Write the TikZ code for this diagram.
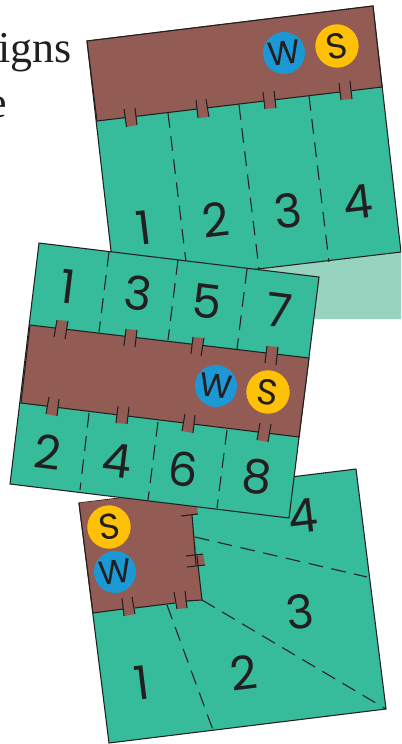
\documentclass[tikz,border=0pt]{standalone}
\usepackage{fontspec}
\setmainfont{Liberation Serif}
\newfontfamily\handfont{Poppins}
\definecolor{flapgreen}{HTML}{36BB9B}
\definecolor{palegreen}{HTML}{97D4C0}
\definecolor{corebrown}{HTML}{925B53}
\definecolor{windblue}{HTML}{1C98D5}
\definecolor{sunyellow}{HTML}{FFC107}
\definecolor{ink}{HTML}{231F20}
\tikzset{
  flap/.style={fill=flapgreen, draw=ink, line width=0.8pt, line join=miter},
  core/.style={fill=corebrown},
  tabfill/.style={fill=corebrown},
  tabline/.style={draw=ink, line width=0.8pt},
  edgeline/.style={draw=ink, line width=0.8pt},
  foldline/.style={draw=ink, line width=0.8pt, dash pattern=on 11pt off 6.5pt},
  digit/.style={font=\handfont\fontsize{35}{35}\selectfont, text=ink, inner sep=0pt},
  windbadge/.style={circle, fill=windblue, text=ink, minimum size=31.5pt, inner sep=0pt, font=\handfont\fontsize{25}{25}\selectfont},
  sunbadge/.style={circle, fill=sunyellow, text=ink, minimum size=32.5pt, inner sep=0pt, font=\handfont\fontsize{27}{27}\selectfont},
  pagetext/.style={font=\fontsize{33}{33}\selectfont, text=ink, inner sep=0pt, anchor=base west}
}
\begin{document}
\begin{tikzpicture}[x=0.75pt,y=-0.75pt]
  \useasboundingbox (0,0) rectangle (401,744);
  \clip (0,0) rectangle (401,744);

  % page behind the plans
  \fill[palegreen] (255,269) -- (401,252) -- (401,319) -- (255,319) -- cycle;
  \node[pagetext] (wordA) at (-2,62) {igns};
  \node[pagetext] (wordB) at (-13,117) {e};
  \node[pagetext] (wordC) at (-13,225) {l};

  % third plan
  \draw[flap] (79,503) -- (356,469) -- (386,709) -- (109,743) -- cycle;
  \fill[core] (79,503) -- (197,489) -- (197,507) -- (192,515) -- (202,600) -- (93,613) -- cycle;
  \fill[tabfill] (181,516) -- (198,514) -- (196,500) -- (179,502) -- cycle;
  \fill[tabfill] (186,556) -- (203,554) -- (205,565) -- (187,567) -- cycle;
  \fill[tabfill] (122,598) -- (124,616) -- (135,614) -- (132,597) -- cycle;
  \fill[tabfill] (174,592) -- (177,609) -- (187,608) -- (185,591) -- cycle;
  \draw[edgeline] (79,503) -- (93,613) -- (123,609);
  \draw[edgeline] (135,608) -- (175,603);
  \draw[edgeline] (186,601) -- (202,600) -- (197,556);
  \draw[edgeline] (196,565) -- (192,515);
  \draw[tabline] (181,516) -- (198,514);
  \draw[tabline] (186,556) -- (203,554);
  \draw[tabline] (187,567) -- (205,565);
  \draw[tabline] (122,598) -- (124,616);
  \draw[tabline] (132,597) -- (135,614);
  \draw[tabline] (174,592) -- (177,609);
  \draw[tabline] (185,591) -- (187,608);
  \draw[foldline] (195,537) -- (367,577);
  \draw[foldline] (202,600) -- (386,709);
  \draw[foldline] (167,605) -- (213,730);

  % first plan
  \draw[flap] (87,41) -- (373,6) -- (401,252) -- (115,286) -- cycle;
  \fill[core] (87,41) -- (373,6) -- (382,87) -- (97,121) -- cycle;
  \draw[edgeline] (87,41) -- (373,6) -- (382,87) -- (97,121) -- cycle;
  \fill[tabfill] (124,109) -- (126.5,127) -- (137,125) -- (135,108) -- cycle;
  \fill[tabfill] (196,100) -- (198,118) -- (209,117) -- (206,99) -- cycle;
  \fill[tabfill] (263,92) -- (265,109) -- (276,108) -- (274,91) -- cycle;
  \fill[tabfill] (339,83) -- (341,100) -- (352,99) -- (350,81) -- cycle;
  \draw[tabline] (124,109) -- (126.5,127);
  \draw[tabline] (135,108) -- (137,125);
  \draw[tabline] (196,100) -- (198,118);
  \draw[tabline] (206,99) -- (209,117);
  \draw[tabline] (263,92) -- (265,109);
  \draw[tabline] (274,91) -- (276,108);
  \draw[tabline] (339,83) -- (341,100);
  \draw[tabline] (350,81) -- (352,99);
  \draw[foldline] (168,113) -- (186,262);
  \draw[foldline] (239,105) -- (259,269);
  \draw[foldline] (309,96) -- (329,262);
  \node[digit, rotate=7] (oneA) at (144,228) {1};
  \node[digit, rotate=7] (twoA) at (216,220) {2};
  \node[digit, rotate=7] (threeA) at (288,211) {3};
  \node[digit, rotate=7] (fourA) at (358,202) {4};
  \node[windbadge, rotate=7] (windA) at (284,53) {W};
  \node[sunbadge, rotate=10] (sunA) at (337,46) {S};

  % second plan
  \draw[flap] (39,243) -- (319,277) -- (289,518) -- (10,484) -- cycle;
  \fill[core] (30,325) -- (309,358) -- (299,437) -- (21,403) -- cycle;
  \draw[edgeline] (30,325) -- (309,358) -- (299,437) -- (21,403) -- cycle;
  \fill[tabfill] (57,320) -- (54,337) -- (65,339) -- (68,321) -- cycle;
  \fill[tabfill] (126,329) -- (124,346) -- (135,347) -- (137,330) -- cycle;
  \fill[tabfill] (193,337) -- (191,354) -- (201,356) -- (204,338) -- cycle;
  \fill[tabfill] (267,346) -- (265,363) -- (276,365) -- (278,347) -- cycle;
  \fill[tabfill] (49,397) -- (46,414) -- (57,416) -- (59,399) -- cycle;
  \fill[tabfill] (118,406) -- (116,423) -- (127,424) -- (129,407) -- cycle;
  \fill[tabfill] (185,414) -- (182,431) -- (193,433) -- (195,415) -- cycle;
  \fill[tabfill] (260,423) -- (257,440) -- (268,442) -- (271,424) -- cycle;
  \draw[tabline] (57,320) -- (54,337);
  \draw[tabline] (68,321) -- (65,339);
  \draw[tabline] (126,329) -- (124,346);
  \draw[tabline] (137,330) -- (135,347);
  \draw[tabline] (193,337) -- (191,354);
  \draw[tabline] (204,338) -- (201,356);
  \draw[tabline] (267,346) -- (265,363);
  \draw[tabline] (278,347) -- (276,365);
  \draw[tabline] (49,397) -- (46,414);
  \draw[tabline] (59,399) -- (57,416);
  \draw[tabline] (118,406) -- (116,423);
  \draw[tabline] (129,407) -- (127,424);
  \draw[tabline] (185,414) -- (182,431);
  \draw[tabline] (195,415) -- (193,433);
  \draw[tabline] (260,423) -- (257,440);
  \draw[tabline] (271,424) -- (268,442);
  \draw[foldline] (109,252) -- (99,332);
  \draw[foldline] (178,260) -- (168,340);
  \draw[foldline] (247,269) -- (237,349);
  \draw[foldline] (89,413) -- (80,490);
  \draw[foldline] (158,422) -- (148,500);
  \draw[foldline] (227,430) -- (217,508);
  \node[digit, rotate=-7] (oneB) at (68,287) {1};
  \node[digit, rotate=-7] (threeB) at (138,293) {3};
  \node[digit, rotate=-7] (fiveB) at (207,302) {5};
  \node[digit, rotate=-7] (sevenB) at (279,310) {7};
  \node[digit, rotate=-7] (twoB) at (48,452) {2};
  \node[digit, rotate=-7] (fourB) at (117,461) {4};
  \node[digit, rotate=-7] (sixB) at (183,469) {6};
  \node[digit, rotate=-7] (eightB) at (257,477) {8};
  \node[windbadge, rotate=-7] (windB) at (216,386) {W};
  \node[sunbadge, rotate=-7] (sunB) at (268,392) {S};

  % third plan, labels
  \node[digit, rotate=7] (fourC) at (303,516) {4};
  \node[digit, rotate=7] (threeC) at (300,612) {3};
  \node[digit, rotate=7] (twoC) at (244,673) {2};
  \node[digit, rotate=7] (oneC) at (142,683) {1};
  \node[sunbadge, rotate=7] (sunC) at (109,527) {S};
  \node[windbadge, rotate=7] (windC) at (115,572) {W};
\end{tikzpicture}
\end{document}
